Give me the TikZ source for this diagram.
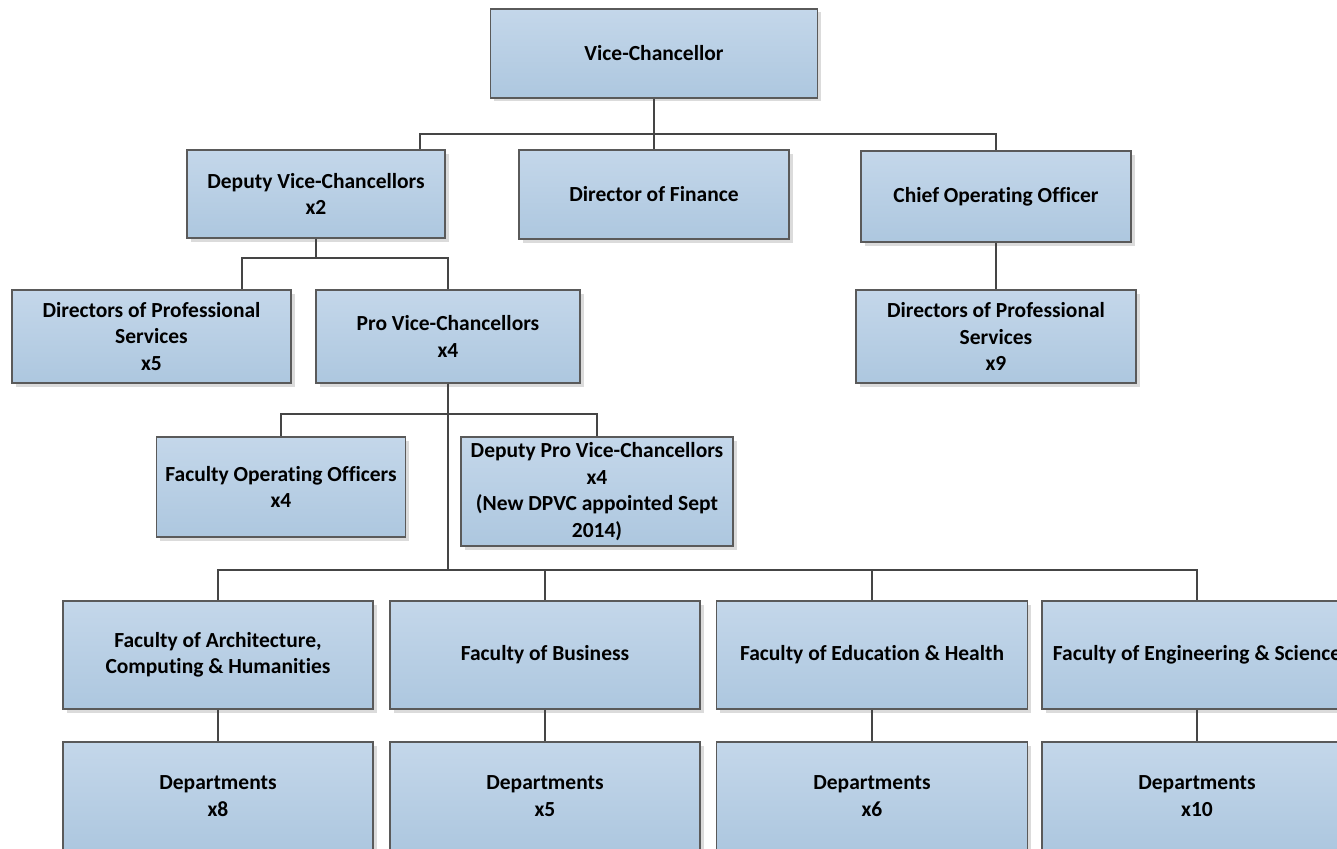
\documentclass[tikz,border=0pt]{standalone}
\usepackage{fontspec}
\setmainfont{Carlito}[RawFeature=-liga]
\usetikzlibrary{shadows}

\definecolor{boxtop}{HTML}{C4D7EA}
\definecolor{boxbot}{HTML}{ADC7DF}
\definecolor{boxline}{HTML}{5A5A5A}
\definecolor{linkline}{HTML}{454545}

\tikzset{
  post/.style={rectangle, draw=boxline, line width=1.3pt,
    top color=boxtop, bottom color=boxbot, align=center, inner sep=0pt,
    font=\fontsize{21.5}{26.5}\selectfont\bfseries,
    general shadow={fill=black!14, shadow xshift=3.5pt, shadow yshift=-3.5pt}},
  link/.style={draw=linkline, line width=2pt},
}

\begin{document}
\begin{tikzpicture}[x=1pt, y=-1pt]
  \useasboundingbox (0,0) rectangle (1337,848);
  \clip (0,0) rectangle (1337,848);

  % top of the tree
  \node[post, minimum width=327pt, minimum height=89pt] (vc) at (654,53.5) {Vice-Chancellor};

  \node[post, minimum width=258pt, minimum height=88pt] (dvc) at (316,194) {Deputy Vice-Chancellors\\x2};
  \draw[link] (vc.south) -- ++(0,35) -| ([xshift=104pt]dvc.north);
  \node[post, minimum width=270pt, minimum height=89pt] (dof) at (654,194.5) {Director of Finance};
  \draw[link] (vc.south) -- (dof.north);
  \node[post, minimum width=270pt, minimum height=91pt] (coo) at (996,196.5) {Chief Operating Officer};
  \draw[link] (vc.south) -- ++(0,35) -| (coo.north);

  % third row
  \node[post, minimum width=279pt, minimum height=93pt] (dps5) at (151.5,336.5) {Directors of Professional\\Services\\x5};
  \draw[link] (dvc.south) -- ++(0,19) -| ([xshift=90.5pt]dps5.north);
  \node[post, minimum width=264pt, minimum height=93pt] (pvc) at (448,336.5) {Pro Vice-Chancellors\\x4};
  \draw[link] (dvc.south) -- ++(0,19) -| (pvc.north);
  \node[post, minimum width=280pt, minimum height=93pt] (dps9) at (996,336.5) {Directors of Professional\\Services\\x9};
  \draw[link] (coo.south) -- (dps9.north);

  % under the pro vice-chancellors
  \node[post, minimum width=249pt, minimum height=100pt] (foo) at (281,487) {Faculty Operating Officers\\x4};
  \draw[link] (pvc.south) -- ++(0,30) -| (foo.north);
  \node[post, minimum width=272pt, minimum height=109pt] (dpvc) at (597,491.5) {Deputy Pro Vice-Chancellors\\x4\\(New DPVC appointed Sept\\2014)};
  \draw[link] (pvc.south) -- ++(0,30) -| (dpvc.north);

  % faculties
  \node[post, minimum width=310pt, minimum height=108pt] (fach) at (218,655) {Faculty of Architecture,\\Computing \& Humanities};
  \draw[link] (pvc.south) -- ++(0,186) -| (fach.north);
  \node[post, minimum width=310pt, minimum height=108pt] (fbus) at (545,655) {Faculty of Business};
  \draw[link] (pvc.south) -- ++(0,186) -| (fbus.north);
  \node[post, minimum width=311pt, minimum height=108pt] (fedu) at (872,655) {Faculty of Education \& Health};
  \draw[link] (pvc.south) -- ++(0,186) -| (fedu.north);
  \node[post, minimum width=310pt, minimum height=108pt] (feng) at (1197,655) {Faculty of Engineering \& Science};
  \draw[link] (pvc.south) -- ++(0,186) -| (feng.north);

  % departments
  \node[post, minimum width=310pt, minimum height=108pt] (dach) at (218,796) {Departments\\x8};
  \draw[link] (fach) -- (dach);
  \node[post, minimum width=310pt, minimum height=108pt] (dbus) at (545,796) {Departments\\x5};
  \draw[link] (fbus) -- (dbus);
  \node[post, minimum width=311pt, minimum height=108pt] (dedu) at (872,796) {Departments\\x6};
  \draw[link] (fedu) -- (dedu);
  \node[post, minimum width=310pt, minimum height=108pt] (deng) at (1197,796) {Departments\\x10};
  \draw[link] (feng) -- (deng);
\end{tikzpicture}
\end{document}
